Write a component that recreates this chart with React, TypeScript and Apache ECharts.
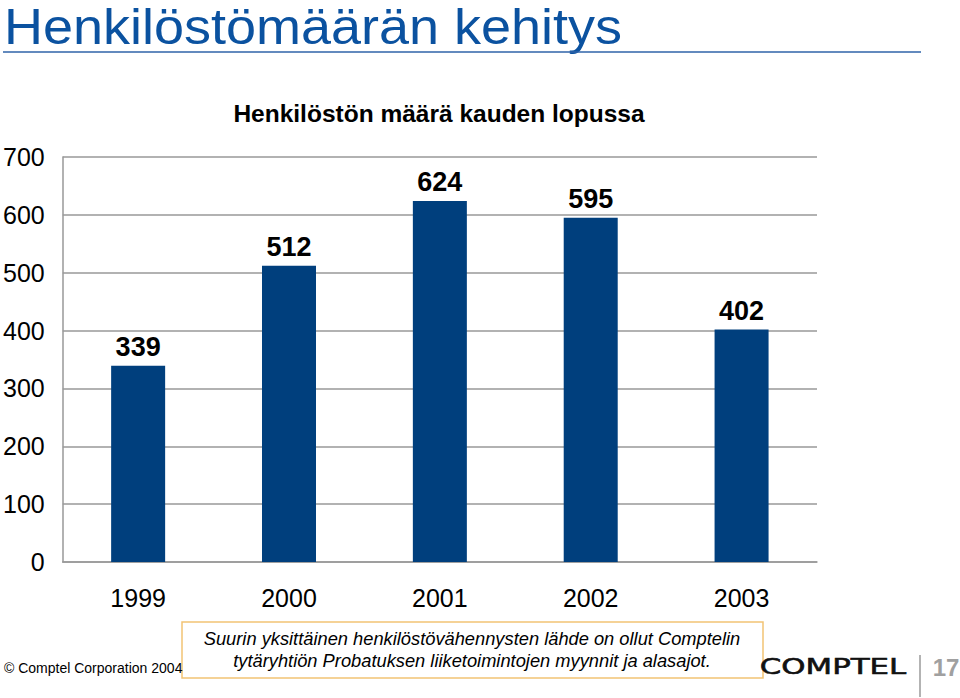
import React, { useEffect, useRef } from "react";
import * as echarts from "echarts";

const categories = ["1999", "2000", "2001", "2002", "2003"];
const headcount = [339, 512, 624, 595, 402];
const yTicks = { min: 0, max: 700, interval: 100 };

const FONT = "Liberation Sans, Arial, sans-serif";

export default function App() {
  const ref = useRef<HTMLDivElement>(null);
  useEffect(() => {
    if (!ref.current) return;
    const chart = echarts.init(ref.current, null, { renderer: "svg" });
    chart.setOption({
      animation: false,
      backgroundColor: "#ffffff",
      textStyle: { fontFamily: FONT },
      grid: { left: 62, right: 143, top: 157, bottom: 136, containLabel: false },
      xAxis: {
        type: "category",
        data: categories,
        axisTick: { show: false },
        axisLine: { show: true, lineStyle: { color: "#999999", width: 1.5 } },
        axisLabel: { fontSize: 25, color: "#000000", margin: 23, fontFamily: FONT },
      },
      yAxis: {
        type: "value",
        min: yTicks.min,
        max: yTicks.max,
        interval: yTicks.interval,
        axisLine: { show: true, lineStyle: { color: "#999999", width: 1.5 } },
        axisTick: { show: false },
        splitLine: { lineStyle: { color: "#999999", width: 1.5 } },
        axisLabel: { fontSize: 25, color: "#000000", margin: 18, fontFamily: FONT },
      },
      series: [
        {
          type: "bar",
          data: headcount,
          barWidth: 54,
          itemStyle: { color: "#003f7d" },
          label: {
            show: true,
            position: "top",
            distance: 5,
            fontSize: 27,
            fontWeight: "bold",
            color: "#000000",
            fontFamily: FONT,
          },
        },
      ],
      graphic: [
        {
          type: "text",
          x: 4,
          y: 2,
          scaleX: 1.08,
          style: { text: "Henkilöstömäärän kehitys", fontSize: 50, fill: "#0b52a0", fontFamily: FONT },
        },
        {
          type: "line",
          shape: { x1: 3, y1: 52, x2: 921, y2: 52 },
          style: { stroke: "#2f63a8", lineWidth: 1.5 },
        },
        {
          type: "text",
          x: 439,
          y: 113,
          style: {
            text: "Henkilöstön määrä kauden lopussa",
            fontSize: 24.5,
            fontWeight: "bold",
            fill: "#000000",
            align: "center",
            verticalAlign: "middle",
            fontFamily: FONT,
          },
        },
        {
          type: "rect",
          shape: { x: 182, y: 622, width: 581, height: 56 },
          style: { fill: "#ffffff", stroke: "#f2c374", lineWidth: 1.5 },
        },
        {
          type: "text",
          x: 472,
          y: 649,
          style: {
            text: "Suurin yksittäinen henkilöstövähennysten lähde on ollut Comptelin\ntytäryhtiön Probatuksen liiketoimintojen myynnit ja alasajot.",
            fontSize: 18.3,
            fontStyle: "italic",
            fill: "#000000",
            align: "center",
            verticalAlign: "middle",
            lineHeight: 22,
            fontFamily: FONT,
          },
        },
        {
          type: "text",
          x: 4,
          y: 668,
          style: {
            text: "© Comptel Corporation 2004",
            fontSize: 14,
            fill: "#000000",
            verticalAlign: "middle",
            fontFamily: FONT,
          },
        },
        {
          type: "text",
          x: 833,
          y: 666,
          scaleX: 1.4,
          style: {
            text: "COMPTEL",
            fontSize: 22,
            fill: "#111111",
            stroke: "#111111",
            lineWidth: 0.6,
            align: "center",
            verticalAlign: "middle",
            fontFamily: "DejaVu Sans, sans-serif",
          },
        },
        {
          type: "line",
          shape: { x1: 920, y1: 655, x2: 920, y2: 697 },
          style: { stroke: "#9a9a9a", lineWidth: 1.5 },
        },
        {
          type: "text",
          x: 946,
          y: 667,
          style: {
            text: "17",
            fontSize: 24,
            fontWeight: "bold",
            fill: "#a0a0a0",
            align: "center",
            verticalAlign: "middle",
            fontFamily: FONT,
          },
        },
      ],
    });
    return () => chart.dispose();
  }, []);
  return (
    <div
      ref={ref}
      style={{ position: "fixed", left: 0, top: 0, width: 960, height: 698 }}
    />
  );
}
